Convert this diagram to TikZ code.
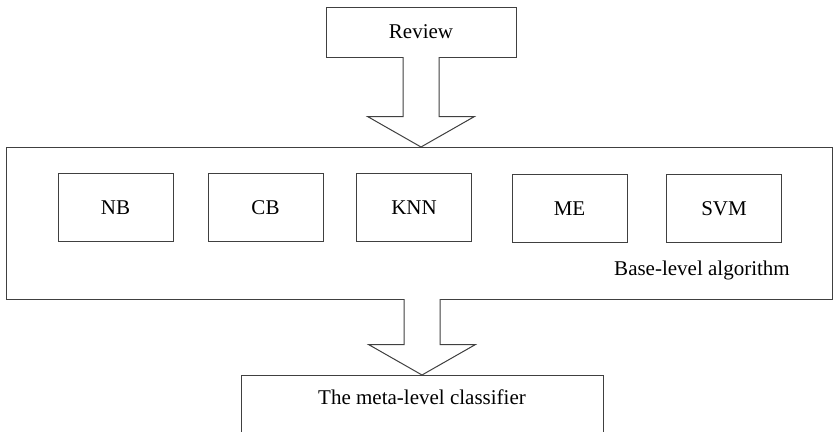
\documentclass[tikz,border=0pt]{standalone}
\usepackage{fontspec}
\setmainfont{Liberation Serif}
\usetikzlibrary{calc}

% hollow block arrow: shaft starts at the level of #1, tip lands on #2
\newcommand\blockarrow[2]{%
  \draw[arrowline] let \p1=(#1), \p2=(#2) in
    (\x2-18pt,\y1) -- (\x2-18pt,\y2+30.5pt) -- (\x2-53.5pt,\y2+30.5pt)
    -- (\x2,\y2)
    -- (\x2+53.5pt,\y2+30.5pt) -- (\x2+18pt,\y2+30.5pt) -- (\x2+18pt,\y1);}

\begin{document}
\begin{tikzpicture}[x=1pt,y=-1pt,
  txt/.style={font=\fontsize{21}{25}\selectfont, inner sep=0pt, outer sep=0pt},
  box/.style={txt, draw=black!75, line width=1pt},
  algo/.style={box, minimum width=115pt, minimum height=68pt},
  arrowline/.style={draw=black!75, line width=1pt, line join=miter, fill=white}]
\useasboundingbox (0,0) rectangle (834,431);

% input
\node[box, minimum width=190pt, minimum height=50pt] (review) at (421,32) {Review};

% base-level layer
\node[box, minimum width=826pt, minimum height=152pt] (base) at (419,223) {};
\node[algo] (nb)  at (115.5,207.5) {NB};
\node[algo] (cb)  at (265.5,207.5) {CB};
\node[algo] (knn) at (414,207.5)   {KNN};
\node[algo] (me)  at (569.5,208.5) {ME};
\node[algo] (svm) at (724,208.5)   {SVM};
\node[txt] (baselabel) at (702,270) {Base-level algorithm};

% meta-level classifier (box runs off the lower edge)
\node[txt] (meta) at (422,397) {The meta-level classifier};
\coordinate (metaNW) at (241,375);
\coordinate (metaNE) at (603,375);
\coordinate (metaSW) at (241,432);
\coordinate (metaSE) at (603,432);
\draw[arrowline, fill=none] (metaSW) -- (metaNW) -- (metaNE) -- (metaSE);

% arrows
\coordinate (tipA) at (base.north -| review.south);
\coordinate (tipB) at (meta.center |- metaNW);
\blockarrow{review.south}{tipA}
\blockarrow{base.south}{tipB}
\end{tikzpicture}
\end{document}
